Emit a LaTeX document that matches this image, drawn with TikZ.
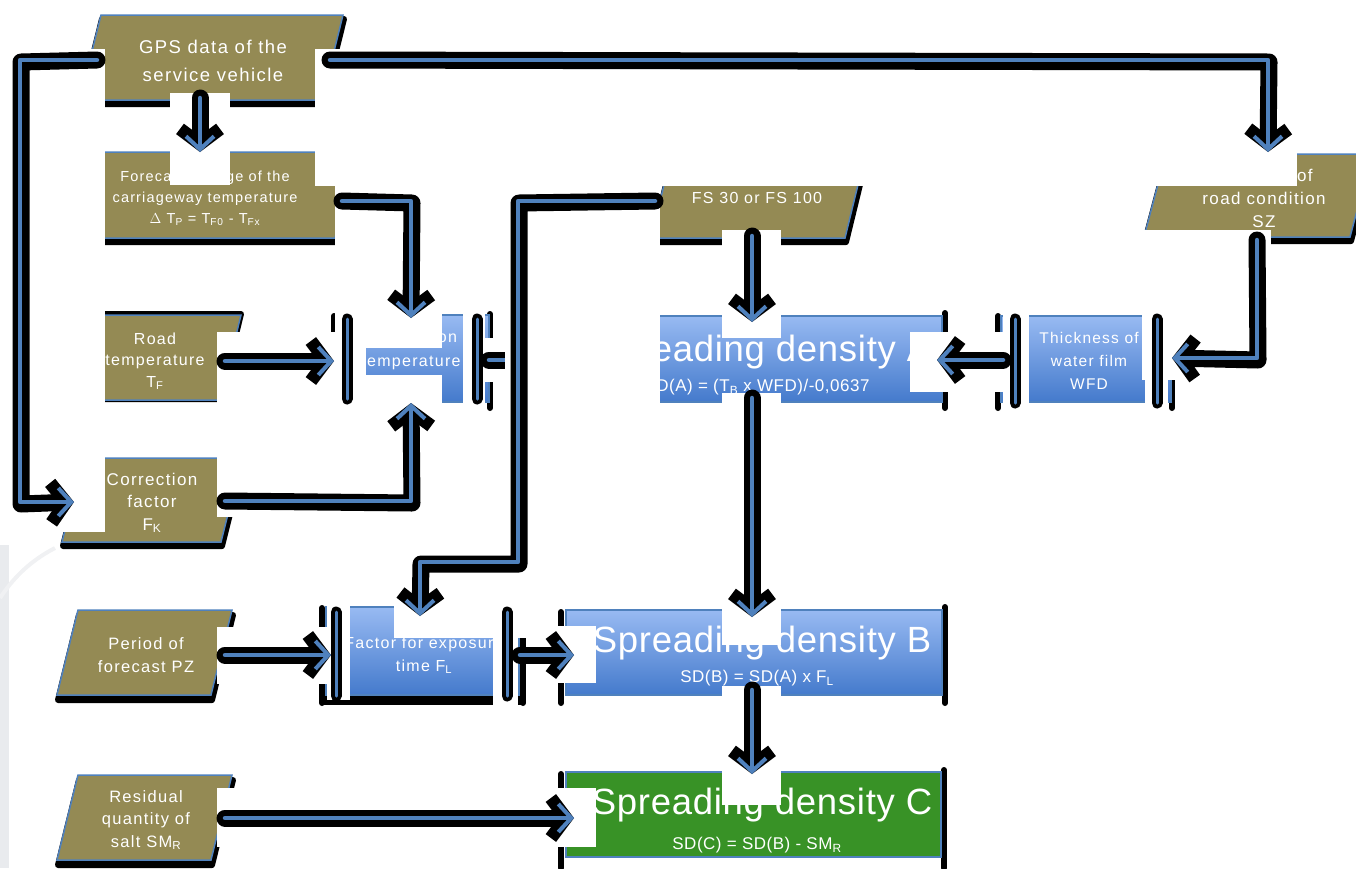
\documentclass[tikz,border=0pt]{standalone}
\usepackage{fontspec}
\setmainfont{Liberation Sans}[LetterSpace=8]
\newfontfamily\titlefont{Liberation Sans}[LetterSpace=2]
\newfontfamily\subfont{Liberation Sans}[LetterSpace=3]
\usetikzlibrary{arrows.meta}
\definecolor{olivebox}{RGB}{148,138,84}
\definecolor{bline}{RGB}{79,129,189}
\definecolor{ptop}{RGB}{152,186,242}
\definecolor{pbot}{RGB}{68,122,204}
\definecolor{sdgreen}{RGB}{56,146,38}
\definecolor{bggray}{RGB}{233,235,238}
\newcommand{\myfs}[2]{\fontsize{#1}{#2}\selectfont}
\begin{document}
\begin{tikzpicture}[x=1pt,y=-1pt,
  databox/.style={fill=olivebox, draw=bline, line width=1.5pt, line join=miter},
  dshadow/.style={fill=black, draw=black, line width=6pt, line join=round},
  procbox/.style={top color=ptop, bottom color=pbot, draw=bline, line width=1.2pt},
  greenbox/.style={fill=sdgreen, draw=bline, line width=1.5pt},
  edge/.style={draw=black, line width=6pt, line cap=round},
  patch/.style={fill=white, draw=none},
  cshadow/.style={draw=black, line width=17pt, line cap=round, line join=round,
     -{Straight Barb[length=15pt,width=40pt,line width=13pt]}},
  cline/.style={draw=bline, line width=4.5pt, line cap=round, line join=round,
     -{Straight Barb[length=13pt,width=28pt,line width=4pt]}},
  barshadow/.style={draw=black, line width=11pt, line cap=round},
  barline/.style={draw=bline, line width=3pt, line cap=round},
  txt/.style={text=white, align=center, inner sep=0pt},
]
\useasboundingbox (0,0) rectangle (1356,868);
\clip (0,0) rectangle (1356,868);
\fill[bggray] (0,545) rectangle (9,868);
\draw[bggray!70, line width=4pt] (0,598) .. controls (12,580) and (28,562) .. (55,548);

% ---------- shadows of the data boxes ----------
\filldraw[dshadow, shift={(1,4)}] (101,15) -- (343,15) -- (322,100) -- (80,100) -- cycle;
\filldraw[dshadow, shift={(1,4)}] (102,152) -- (356,152) -- (335,238) -- (81,238) -- cycle;
\filldraw[dshadow, shift={(0,-1)}] (90,315) -- (241,315) -- (220,400) -- (69,400) -- cycle;
\filldraw[dshadow, shift={(1,4)}] (83,458) -- (242,458) -- (221,542) -- (62,542) -- cycle;
\filldraw[dshadow, shift={(1,5)}] (78,610) -- (232,610) -- (211,695) -- (57,695) -- cycle;
\filldraw[dshadow, shift={(1,5)}] (78,775) -- (232,775) -- (211,860) -- (57,860) -- cycle;
\filldraw[dshadow, shift={(1,4)}] (672,152) -- (866,152) -- (845,238) -- (651,238) -- cycle;
\filldraw[dshadow, shift={(1,4)}] (1166,154) -- (1372,154) -- (1350,237) -- (1144,237) -- cycle;

% ---------- side shadows of the process boxes ----------
\draw[edge] (334,316) -- (334,406);
\draw[edge] (490,314) -- (490,408);
\draw[edge] (322,608) -- (322,703);
\draw[edge] (523,606) -- (523,703);
\fill[black] (322,695) rectangle (523,705);
\draw[edge] (561,612) -- (561,703);
\draw[edge] (945,607) -- (945,703);
\draw[edge] (945,313) -- (945,408);
\draw[edge] (561,318) -- (561,408);
\draw[edge] (561,774) -- (561,868);
\draw[edge] (944,770) -- (944,868);
\draw[edge] (998,316) -- (998,408);
\draw[edge] (1172,316) -- (1172,408);

% ---------- data boxes ----------
\filldraw[databox] (101,15) -- (343,15) -- (322,100) -- (80,100) -- cycle;
\node[txt, font=\myfs{18.5}{28}] (gps) at (213,61) {GPS data of the\\service vehicle};

\filldraw[databox] (102,152) -- (356,152) -- (335,238) -- (81,238) -- cycle;
\node[txt, font=\myfs{14.5}{21}] (fct) at (205,198) {Forecast change of the\\carriageway temperature\\$\Delta$ T\textsubscript{P} = T\textsubscript{F0} - T\textsubscript{Fx}};

\filldraw[databox] (90,315) -- (241,315) -- (220,400) -- (69,400) -- cycle;
\node[txt, font=\myfs{16}{21.5}] (rt) at (155,361) {Road\\temperature\\T\textsubscript{F}};

\filldraw[databox] (83,458) -- (242,458) -- (221,542) -- (62,542) -- cycle;
\node[txt, font=\myfs{17}{22.5}] (cf) at (152,503) {Correction\\factor\\F\textsubscript{K}};

\filldraw[databox] (78,610) -- (232,610) -- (211,695) -- (57,695) -- cycle;
\node[txt, font=\myfs{16.5}{23}] (pf) at (146,655) {Period of\\forecast PZ};

\filldraw[databox] (78,775) -- (232,775) -- (211,860) -- (57,860) -- cycle;
\node[txt, font=\myfs{16.5}{22.5}] (rq) at (146,820) {Residual\\quantity of\\salt SM\textsubscript{R}};

\filldraw[databox] (672,152) -- (866,152) -- (845,238) -- (651,238) -- cycle;
\node[txt, font=\myfs{16}{20}] (fs) at (757,198) {FS 30 or FS 100};

\filldraw[databox] (1166,154) -- (1372,154) -- (1350,237) -- (1144,237) -- cycle;
\node[txt, font=\myfs{17}{23}] (rc) at (1264,198) {Forecast of\\road condition\\SZ};

% ---------- process boxes ----------
\filldraw[procbox] (337,315) rectangle (489,402);
\node[txt, font=\myfs{16}{24}] (ct) at (411,350) {Calculation\\temperature};

\filldraw[procbox] (326,607) rectangle (519,695);
\node[txt, font=\myfs{16}{23}] (fl) at (424,655) {Factor for exposure\\time F\textsubscript{L}};

\filldraw[procbox] (1001,316) rectangle (1171,402);
\node[txt, font=\myfs{15.5}{23}] (wfd) at (1089,361) {Thickness of\\water film\\WFD};

\filldraw[procbox] (566,316) rectangle (942,402);
\node[txt, font=\titlefont\myfs{36.5}{40}] (sda) at (762,352) {Spreading density A};
\node[txt, font=\subfont\myfs{17}{20}] (sdaf) at (757,387) {SD(A) = (T\textsubscript{B} x WFD)/-0,0637};

\filldraw[procbox] (566,610) rectangle (942,695);
\node[txt, font=\titlefont\myfs{36.5}{40}] (sdb) at (762,643) {Spreading density B};
\node[txt, font=\subfont\myfs{17}{20}] (sdbf) at (757,678) {SD(B) = SD(A) x F\textsubscript{L}};

\filldraw[greenbox] (566,772) rectangle (941,857);
\node[txt, font=\titlefont\myfs{36.5}{40}] (sdc) at (762,805) {Spreading density C};
\node[txt, font=\subfont\myfs{17}{20}] (sdcf) at (757,845) {SD(C) = SD(B) - SM\textsubscript{R}};

% ---------- white grounds of the connectors ----------
\fill[patch] (9,49) rectangle (105,532);
\fill[patch] (315,49) rectangle (1297,186);
\fill[patch] (170,93) rectangle (230,185);
\fill[patch] (335,186) rectangle (442,348);
\fill[patch] (217,332) rectangle (366,413);
\fill[patch] (217,375) rectangle (442,517);
\fill[patch] (463,312) rectangle (485,406);
\fill[patch] (722,230) rectangle (781,338);
\fill[patch] (722,393) rectangle (781,645);
\fill[patch] (722,686) rectangle (781,805);
\fill[patch] (217,627) rectangle (350,684);
\fill[patch] (327,603) rectangle (350,700);
\fill[patch] (493,603) rectangle (518,708);
\fill[patch] (532,626) rectangle (596,683);
\fill[patch] (217,788) rectangle (596,847);
\fill[patch] (910,332) rectangle (1003,392);
\fill[patch] (1003,313) rectangle (1029,410);
\fill[patch] (1145,313) rectangle (1168,410);
\fill[patch] (1142,230) rectangle (1271,380);
\fill[patch] (485,338) rectangle (566,382);

% ---------- named end points ----------
\coordinate (gpsL) at (97,60);
\coordinate (gpsB) at (200,98);
\coordinate (gpsR) at (330,60);
\coordinate (fctT) at (200,152);
\coordinate (fctR) at (342,201);
\coordinate (ctT) at (411,318);
\coordinate (ctL) at (334,361);
\coordinate (ctB) at (411,403);
\coordinate (ctR) at (489,360);
\coordinate (rtR) at (225,361);
\coordinate (cfL) at (74,502);
\coordinate (cfR) at (225,501);
\coordinate (fsL) at (655,201);
\coordinate (fsB) at (752,236);
\coordinate (rcT) at (1268,152);
\coordinate (rcB) at (1257,240);
\coordinate (sdaT) at (752,322);
\coordinate (sdaL) at (566,360);
\coordinate (sdaR) at (937,360);
\coordinate (sdaB) at (752,398);
\coordinate (wfdL) at (1003,360);
\coordinate (wfdR) at (1172,358);
\coordinate (flT) at (420,616);
\coordinate (flL) at (331,655);
\coordinate (flR) at (520,655);
\coordinate (pfR) at (225,655);
\coordinate (rqR) at (225,818);
\coordinate (sdbT) at (752,617);
\coordinate (sdbL) at (574,655);
\coordinate (sdbB) at (752,690);
\coordinate (sdcT) at (752,774);
\coordinate (sdcL) at (574,818);

% ---------- connector hidden under the long one ----------
\draw[cshadow, shift={(1,2)}] (ctR) -- (sdaL);
\draw[cline] (ctR) -- (sdaL);
\fill[patch] (505,186) rectangle (660,560);
\fill[patch] (394,545) rectangle (530,638);

% ---------- connectors ----------
\draw[cshadow, shift={(1,2)}] (gpsL) -- (20,60) -- (20,502) -- (cfL);
\draw[cline] (gpsL) -- (20,60) -- (20,502) -- (cfL);
\draw[cshadow, shift={(1,2)}] (gpsB) -- (fctT);
\draw[cline] (gpsB) -- (fctT);
\draw[cshadow, shift={(1,2)}] (gpsR) -- (1268,60) -- (rcT);
\draw[cline] (gpsR) -- (1268,60) -- (rcT);
\draw[cshadow, shift={(1,2)}] (fctR) -- (411,201) -- (ctT);
\draw[cline] (fctR) -- (411,201) -- (ctT);
\draw[cshadow, shift={(1,2)}] (rtR) -- (ctL);
\draw[cline] (rtR) -- (ctL);
\draw[cshadow, shift={(1,2)}] (cfR) -- (411,501) -- (ctB);
\draw[cline] (cfR) -- (411,501) -- (ctB);
\draw[cshadow, shift={(1,2)}] (fsL) -- (518,201) -- (518,562) -- (420,562) -- (flT);
\draw[cline] (fsL) -- (518,201) -- (518,562) -- (420,562) -- (flT);
\draw[cshadow, shift={(1,2)}] (fsB) -- (sdaT);
\draw[cline] (fsB) -- (sdaT);
\draw[cshadow, shift={(1,2)}] (wfdL) -- (sdaR);
\draw[cline] (wfdL) -- (sdaR);
\draw[cshadow, shift={(1,2)}] (rcB) -- (1257,358) -- (wfdR);
\draw[cline] (rcB) -- (1257,358) -- (wfdR);
\draw[cshadow, shift={(1,2)}] (sdaB) -- (sdbT);
\draw[cline] (sdaB) -- (sdbT);
\draw[cshadow, shift={(1,2)}] (sdbB) -- (sdcT);
\draw[cline] (sdbB) -- (sdcT);
\draw[cshadow, shift={(1,2)}] (pfR) -- (flL);
\draw[cline] (pfR) -- (flL);
\draw[cshadow, shift={(1,2)}] (flR) -- (sdbL);
\draw[cline] (flR) -- (sdbL);
\draw[cshadow, shift={(1,2)}] (rqR) -- (sdcL);
\draw[cline] (rqR) -- (sdcL);

% ---------- bars of the predefined processes ----------
\foreach \bx/\ya/\yb in {347/319/399, 477/319/399, 336/612/696, 507/612/696, 1015/319/403, 1157/319/403} {
  \draw[barshadow] (\bx,\ya) -- (\bx,\yb);
  \draw[barline] (\bx,\ya) -- (\bx,\yb);
}
\end{tikzpicture}
\end{document}
